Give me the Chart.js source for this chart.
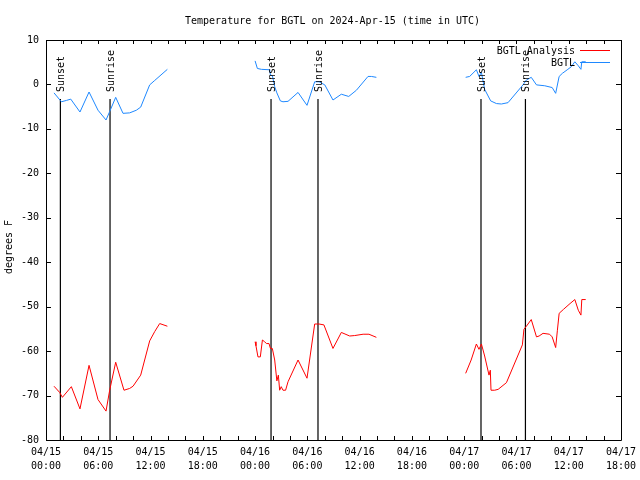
<!DOCTYPE html>
<html>
<head>
<meta charset="utf-8">
<script src="https://cdn.jsdelivr.net/npm/chart.js@4.4.1/dist/chart.umd.min.js"></script>
<style>
  html, body { margin: 0; padding: 0; background: #ffffff; }
  #wrap { width: 640px; height: 480px; position: relative; }
</style>
</head>
<body>
<div id="wrap"><canvas id="c" width="640" height="480"></canvas></div>
<script>
// ---- Data (x = hours since 2024-04-15 00:00 UTC, y = degrees F) ----
const chartTitle = 'Temperature for BGTL on 2024-Apr-15 (time in UTC)';
const yAxisTitle = 'degrees F';
const seriesNames = ['BGTL Analysis', 'BGTL'];

const bgtlTimes = [0.92, 1.77, 2.34, 2.84, 3.9, 4.94, 5.97, 6.89, 7.31, 8.0, 8.84, 9.6, 10.37, 10.87, 11.9, 12.48, 13.93,
  19,
  24.0, 24.26, 24.72, 25.68, 25.76, 25.98, 26.25, 26.5, 26.9, 27.2, 27.78, 28.93, 29.96, 30.84, 31.34, 32.0, 32.94, 33.9, 34.75, 35.63, 36.96, 37.35, 37.92,
  43,
  48.17, 48.63, 49.4, 49.7, 49.98, 50.35, 51.04, 51.7, 52.27, 53.03, 54.75, 55.14, 55.7, 56.3, 57.25, 58.1, 58.5, 58.9, 59.27, 59.9, 60.3, 60.7, 61.1, 61.4, 61.5, 61.95];
const bgtlTemps = [-1.9, -3.9, -3.6, -3.3, -6.2, -1.7, -5.8, -8.0, -6.1, -2.9, -6.5, -6.4, -5.8, -5.1, -0.1, 0.9, 3.4,
  null,
  5.3, 3.6, 3.4, 3.3, 2.1, 2.0, -0.5, -1.9, -3.7, -3.9, -3.8, -1.8, -4.7, 0.6, 0.6, -0.1, -3.5, -2.2, -2.7, -1.3, 1.8, 1.8, 1.6,
  null,
  1.6, 1.8, 3.3, 1.8, 2.7, -1.1, -3.7, -4.3, -4.4, -4.1, -0.1, 1.0, 1.6, -0.1, -0.3, -0.7, -2.0, 1.8, 2.5, 3.4, 4.0, 5.1, 4.2, 3.4, 5.1, 5.1];

const analysisTimes = [0.92, 1.57, 1.88, 2.91, 3.9, 4.94, 5.97, 6.89, 7.31, 8.0, 8.95, 9.6, 9.99, 10.87, 11.9, 12.48, 13.05, 13.93,
  19,
  24.0, 24.1, 24.33, 24.6, 24.84, 25.1, 25.3, 25.6, 25.76, 25.98, 26.25, 26.5, 26.67, 26.82, 27.0, 27.2, 27.5, 27.78, 28.93, 29.96, 30.84, 31.34, 31.9, 32.94, 33.9, 34.86, 35.43, 36.4, 37.07, 37.92,
  43,
  48.17, 48.8, 49.4, 49.7, 49.98, 50.35, 50.85, 51.0, 51.08, 51.5, 51.9, 52.85, 54.68, 54.86, 55.14, 55.7, 56.3, 56.6, 57.05, 57.8, 58.1, 58.5, 58.7, 58.9, 59.4, 60.15, 60.7, 61.1, 61.4, 61.5, 61.95];
const analysisTemps = [-67.9, -69.3, -70.4, -68.0, -73.0, -63.2, -70.9, -73.5, -68.8, -62.5, -68.8, -68.4, -67.9, -65.4, -57.7, -55.6, -53.8, -54.4,
  null,
  -57.9, -58.8, -61.3, -61.3, -57.5, -57.9, -58.3, -58.3, -59.4, -59.4, -62.0, -66.7, -65.4, -68.8, -68.0, -68.8, -68.8, -66.9, -62.0, -66.1, -53.9, -53.9, -54.1, -59.4, -55.8, -56.6, -56.5, -56.2, -56.2, -56.9,
  null,
  -65.0, -62.0, -58.4, -59.6, -58.4, -61.1, -65.4, -64.3, -68.8, -68.8, -68.6, -67.1, -58.6, -55.1, -54.4, -52.9, -56.8, -56.6, -56.0, -56.2, -56.8, -59.2, -55.3, -51.5, -50.6, -49.3, -48.4, -50.8, -51.9, -48.4, -48.4];

const sunTimes  = [1.65, 7.35, 25.83, 31.22, 49.93, 55.03];
const sunLabels = ['Sunset', 'Sunrise', 'Sunset', 'Sunrise', 'Sunset', 'Sunrise'];
const sunLineRange = [-80, -3.3];

const xTickHours = [0, 6, 12, 18, 24, 30, 36, 42, 48, 54, 60, 66];
const xTickDates = ['04/15', '04/15', '04/15', '04/15', '04/16', '04/16', '04/16', '04/16', '04/17', '04/17', '04/17', '04/17'];
const xTickTimes = ['00:00', '06:00', '12:00', '18:00', '00:00', '06:00', '12:00', '18:00', '00:00', '06:00', '12:00', '18:00'];
const xMinorStep = 2;
const yTickValues = [10, 0, -10, -20, -30, -40, -50, -60, -70, -80];

// ---- Build ----
const FONT = 'DejaVu Sans Mono';
const toXY = (ts, vs) => ts.map((t, i) => ({ x: t, y: vs[i] }));
const sunData = [];
sunTimes.forEach(t => {
  sunData.push({ x: t, y: sunLineRange[0] });
  sunData.push({ x: t, y: sunLineRange[1] });
  sunData.push({ x: t + 0.01, y: null });
});

const decorPlugin = {
  id: 'decor',
  afterDatasetsDraw(chart) {
    const ctx = chart.ctx;
    const ca = chart.chartArea;
    const xs = chart.scales.x, ys = chart.scales.y;
    ctx.save();
    // frame
    ctx.strokeStyle = '#000';
    ctx.lineWidth = 1;
    ctx.beginPath();
    ctx.rect(Math.round(ca.left) + 0.5, Math.round(ca.top) + 0.5,
             Math.round(ca.right) - Math.round(ca.left), Math.round(ca.bottom) - Math.round(ca.top));
    ctx.stroke();
    // inward ticks
    ctx.beginPath();
    for (let h = xTickHours[0]; h <= xTickHours[xTickHours.length - 1]; h += xMinorStep) {
      const px = Math.round(xs.getPixelForValue(h)) + 0.5;
      ctx.moveTo(px, ca.bottom); ctx.lineTo(px, ca.bottom - 4);
      ctx.moveTo(px, ca.top); ctx.lineTo(px, ca.top + 4);
    }
    yTickValues.forEach(v => {
      const py = Math.round(ys.getPixelForValue(v)) + 0.5;
      ctx.moveTo(ca.left, py); ctx.lineTo(ca.left + 5, py);
      ctx.moveTo(ca.right, py); ctx.lineTo(ca.right - 5, py);
    });
    ctx.stroke();
    // sun labels
    ctx.fillStyle = '#000';
    ctx.font = '10px "' + FONT + '"';
    sunTimes.forEach((t, i) => {
      const px = xs.getPixelForValue(t);
      const py = ys.getPixelForValue(sunLineRange[1]) - 7;
      ctx.save();
      ctx.translate(px, py);
      ctx.rotate(-Math.PI / 2);
      ctx.textAlign = 'left';
      ctx.textBaseline = 'middle';
      ctx.fillText(sunLabels[i], 0, 1);
      ctx.restore();
    });
    // title
    ctx.textAlign = 'center';
    ctx.textBaseline = 'middle';
    ctx.fillText(chartTitle, (ca.left + ca.right) / 2 - 1, 21);
    // y axis title
    ctx.save();
    ctx.translate(9, 247);
    ctx.rotate(-Math.PI / 2);
    ctx.textAlign = 'center';
    ctx.textBaseline = 'middle';
    ctx.fillText(yAxisTitle, 0, 0);
    ctx.restore();
    // legend
    const colors = ['#ff0000', '#1e88ff'];
    seriesNames.forEach((name, i) => {
      const yy = ca.top + 10 + i * 12;
      ctx.textAlign = 'right';
      ctx.textBaseline = 'middle';
      ctx.fillStyle = '#000';
      ctx.fillText(name, ca.right - 46, yy + 1);
      ctx.strokeStyle = colors[i];
      ctx.beginPath();
      ctx.moveTo(ca.right - 41, Math.round(yy) + 0.5);
      ctx.lineTo(ca.right - 11, Math.round(yy) + 0.5);
      ctx.stroke();
    });
    ctx.restore();
  }
};

new Chart(document.getElementById('c'), {
  type: 'line',
  data: {
    datasets: [
      { label: seriesNames[0], data: toXY(analysisTimes, analysisTemps), borderColor: '#ff0000', borderWidth: 1, pointRadius: 0, tension: 0, spanGaps: false, fill: false },
      { label: seriesNames[1], data: toXY(bgtlTimes, bgtlTemps), borderColor: '#1e88ff', borderWidth: 1, pointRadius: 0, tension: 0, spanGaps: false, fill: false },
      { label: 'sun', data: sunData, borderColor: '#000000', borderWidth: 1.2, pointRadius: 0, tension: 0, spanGaps: false, fill: false }
    ]
  },
  options: {
    responsive: false,
    animation: false,
    events: [],
    layout: { padding: { top: 40, right: 19, left: 0, bottom: 0 } },
    plugins: { legend: { display: false }, title: { display: false }, tooltip: { enabled: false } },
    scales: {
      x: {
        type: 'linear',
        min: xTickHours[0],
        max: xTickHours[xTickHours.length - 1],
        grid: { display: false, drawTicks: false },
        border: { display: false },
        afterFit: s => { s.height = 40; s.paddingLeft = 0; s.paddingRight = 0; },
        afterBuildTicks: s => { s.ticks = xTickHours.map(v => ({ value: v })); },
        ticks: {
          autoSkip: false, maxRotation: 0, minRotation: 0, padding: 6,
          color: '#000',
          font: { family: FONT, size: 10, lineHeight: 1.35 },
          callback: (v) => { const i = xTickHours.indexOf(v); return i >= 0 ? [xTickDates[i], xTickTimes[i]] : ''; }
        }
      },
      y: {
        type: 'linear',
        min: yTickValues[yTickValues.length - 1],
        max: yTickValues[0],
        grid: { display: false, drawTicks: false },
        border: { display: false },
        afterFit: s => { s.width = 46; s.paddingTop = 0; s.paddingBottom = 0; },
        afterBuildTicks: s => { s.ticks = yTickValues.slice().reverse().map(v => ({ value: v })); },
        ticks: {
          padding: 7, color: '#000',
          font: { family: FONT, size: 10 }
        }
      }
    }
  },
  plugins: [decorPlugin]
});
</script>
</body>
</html>
